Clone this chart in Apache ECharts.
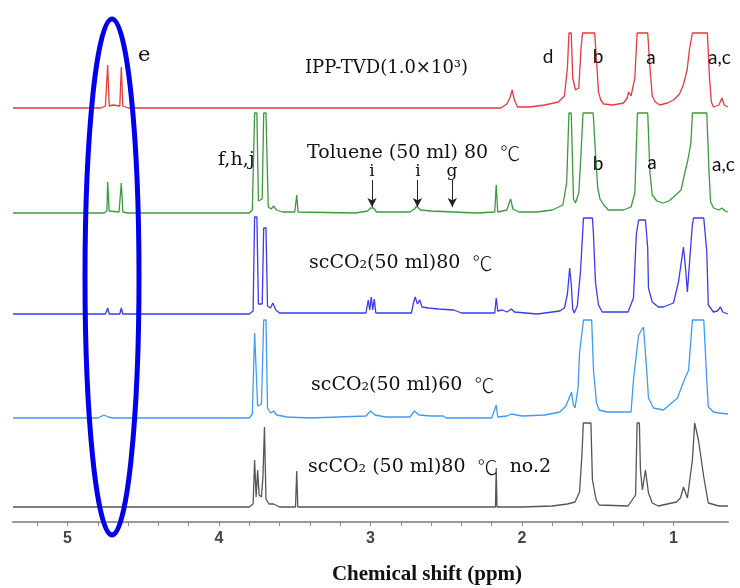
<!DOCTYPE html>
<html>
<head>
<meta charset="utf-8">
<script src="https://cdn.jsdelivr.net/npm/echarts@6/dist/echarts.min.js"></script>
<style>
	html, body { margin: 0; padding: 0; background: #fff; }
	#chart { width: 740px; height: 588px; }
</style>
</head>
<body>
<div id="chart"></div>
<script>
// spectra: [ppm, height above own baseline]
const redIPP = [
	[5.36, 0], [4.78, 0], [4.75, 2], [4.735, 43], [4.725, 2], [4.70, 3], [4.655, 2], [4.645, 41], [4.635, 2], [4.60, 0],
	[2.14, 0], [2.10, 4], [2.08, 10], [2.065, 18], [2.05, 8], [2.03, 1], [1.95, 1], [1.85, 3], [1.76, 6], [1.72, 12],
	[1.70, 40], [1.69, 75], [1.675, 75], [1.665, 30], [1.647, 18], [1.625, 20], [1.61, 60], [1.60, 75], [1.52, 75],
	[1.505, 40], [1.495, 16], [1.48, 8], [1.46, 4], [1.40, 3], [1.33, 5], [1.305, 10], [1.297, 16], [1.28, 12],
	[1.255, 30], [1.24, 75], [1.17, 75], [1.155, 40], [1.14, 12], [1.12, 6], [1.09, 3], [1.04, 5], [1.00, 8],
	[0.96, 14], [0.935, 23], [0.91, 38], [0.895, 58], [0.875, 75], [0.776, 75], [0.762, 30], [0.75, 6], [0.736, 1],
	[0.70, 3], [0.68, 10], [0.665, 3], [0.64, 1]
];
const greenToluene = [
	[5.36, 0], [4.76, 0], [4.74, 2], [4.735, 31], [4.725, 2], [4.66, 1], [4.645, 30], [4.635, 1], [4.60, 0],
	[3.80, 0], [3.78, 3], [3.765, 100], [3.75, 100], [3.74, 12], [3.715, 14], [3.705, 100], [3.69, 100], [3.675, 6],
	[3.655, 4], [3.64, 7], [3.62, 3], [3.58, 1], [3.50, 1], [3.487, 18], [3.478, 1], [3.10, 0], [3.02, 2], [3.00, 5],
	[2.98, 5], [2.96, 1], [2.74, 1], [2.71, 4], [2.695, 7], [2.67, 3], [2.60, 2], [2.45, 1], [2.30, 0], [2.18, 1],
	[2.17, 28], [2.16, 1], [2.10, 3], [2.075, 14], [2.06, 4], [2.02, 1], [1.90, 1], [1.80, 3], [1.73, 8], [1.705, 30],
	[1.69, 100], [1.675, 100], [1.66, 14], [1.647, 10], [1.625, 20], [1.61, 60], [1.597, 100], [1.53, 100],
	[1.515, 60], [1.5, 25], [1.485, 14], [1.46, 8], [1.43, 3], [1.33, 3], [1.28, 6], [1.255, 20], [1.238, 100],
	[1.17, 100], [1.155, 40], [1.14, 18], [1.11, 12], [1.07, 10], [1.03, 12], [0.985, 18], [0.95, 23], [0.925, 40],
	[0.905, 53], [0.885, 70], [0.875, 100], [0.78, 100], [0.765, 40], [0.755, 11], [0.735, 5], [0.70, 3],
	[0.68, 5], [0.66, 2], [0.64, 1]
];
const blueSc80 = [
	[5.36, 0], [4.75, 0], [4.735, 6], [4.725, 0], [4.655, 0], [4.645, 6], [4.635, 0],
	[3.80, 0], [3.775, 3], [3.765, 97], [3.75, 97], [3.74, 10], [3.715, 10], [3.705, 86], [3.69, 86], [3.68, 8],
	[3.66, 6], [3.645, 11], [3.625, 4], [3.60, 1], [3.03, 1], [3.015, 14], [3.005, 4], [2.995, 17], [2.985, 4],
	[2.975, 15], [2.965, 1], [2.73, 1], [2.715, 12], [2.705, 17], [2.69, 10], [2.675, 14], [2.66, 7], [2.62, 6],
	[2.55, 5], [2.45, 4], [2.40, 1], [2.18, 1], [2.17, 16], [2.16, 3], [2.13, 4], [2.10, 2], [2.07, 5], [2.05, 2],
	[1.90, 0], [1.80, 2], [1.75, 3], [1.72, 6], [1.70, 20], [1.685, 46], [1.675, 30], [1.665, 5], [1.655, 1],
	[1.635, 8], [1.614, 42], [1.594, 96], [1.535, 96], [1.528, 79], [1.515, 32], [1.495, 9], [1.47, 2], [1.30, 2],
	[1.264, 16], [1.245, 80], [1.23, 94], [1.185, 94], [1.17, 66], [1.165, 26], [1.14, 12], [1.10, 7], [1.066, 7],
	[1.0, 11], [0.967, 32], [0.95, 50], [0.934, 67], [0.92, 45], [0.908, 22], [0.89, 60], [0.875, 89],
	[0.868, 96], [0.80, 96], [0.78, 62], [0.77, 9], [0.736, 2], [0.71, 3], [0.69, 7], [0.675, 2], [0.64, 0]
];
const lightBlueSc60 = [
	[5.36, 0], [4.80, 0], [4.76, 3], [4.73, 1], [4.70, 0],
	[3.80, 0], [3.78, 4], [3.765, 85], [3.755, 85], [3.745, 12], [3.72, 14], [3.705, 98], [3.69, 98], [3.68, 10],
	[3.66, 5], [3.64, 7], [3.62, 3], [3.55, 1], [3.40, 0], [3.03, 2], [3.00, 7], [2.97, 3], [2.90, 1], [2.74, 1],
	[2.71, 7], [2.68, 3], [2.60, 2], [2.52, 2], [2.50, 0], [2.20, 0], [2.17, 13], [2.16, 1], [2.10, 2], [2.07, 4],
	[2.0, 2], [1.85, 3], [1.75, 6], [1.71, 12], [1.673, 26], [1.662, 14], [1.65, 10], [1.63, 30], [1.62, 65],
	[1.594, 98], [1.54, 98], [1.528, 48], [1.508, 15], [1.49, 8], [1.44, 6], [1.28, 6], [1.264, 38], [1.23, 83],
	[1.198, 91], [1.178, 51], [1.165, 20], [1.132, 10], [1.066, 8], [0.974, 20], [0.934, 36], [0.90, 48],
	[0.875, 98], [0.80, 98], [0.78, 38], [0.77, 11], [0.736, 6], [0.70, 5], [0.64, 4]
];
const blackSc80no2 = [
	[5.36, 0], [3.80, 0], [3.775, 3], [3.765, 47], [3.755, 10], [3.745, 37], [3.735, 12], [3.72, 10], [3.71, 30],
	[3.70, 80], [3.69, 8], [3.67, 3], [3.64, 3], [3.60, 0], [3.495, 0], [3.487, 36], [3.48, 0], [3.0, 0], [2.99, 2],
	[2.98, 0], [2.70, 0], [2.69, 2], [2.68, 0], [2.175, 0], [2.17, 39], [2.165, 0], [2.0, 0], [1.80, 1], [1.70, 3],
	[1.65, 5], [1.62, 15], [1.605, 50], [1.595, 84], [1.545, 84], [1.535, 27], [1.51, 7], [1.49, 2], [1.30, 1],
	[1.25, 12], [1.24, 84], [1.225, 84], [1.218, 37], [1.205, 17], [1.185, 37], [1.165, 14], [1.14, 4],
	[1.10, 1], [0.98, 5], [0.954, 9], [0.934, 20], [0.908, 9], [0.875, 47], [0.86, 84], [0.85, 84], [0.835, 67],
	[0.80, 30], [0.77, 4], [0.70, 1], [0.64, 1]
];

const traceNames = ["IPP-TVD(1.0×10³)", "Toluene (50 ml) 80 ℃", "scCO₂(50 ml)80 ℃", "scCO₂(50 ml)60 ℃", "scCO₂ (50 ml)80 ℃  no.2"];
const traceData = [redIPP, greenToluene, blueSc80, lightBlueSc60, blackSc80no2];
const traceOffsets = [414, 309, 208, 104, 15];
const traceColors = ["#e8393c", "#3c9a3c", "#3a3aee", "#3d9bf5", "#555555"];

const majorTicks = [1, 2, 3, 4, 5];
const minorTicks = [1, 1.2, 1.4, 1.6, 1.8, 2, 2.2, 2.4, 2.6, 2.8, 3, 3.2, 3.4, 3.6, 3.8, 4, 4.2, 4.4, 4.6, 4.8, 5, 5.2];

// i, i, g arrows on the toluene trace
const arrowPpm = [2.99, 2.69, 2.46];

let chart = echarts.init(document.getElementById("chart"));

const serif = "'DejaVu Serif', 'Noto Sans CJK JP', serif";
const sans = "Lato, 'Liberation Sans', sans-serif";
const cjk = "'Noto Sans CJK JP', sans-serif";

function txt(text, x, y, font, align) {
	return {
		type: "text",
		x: x,
		y: y,
		z: 50,
		style: {
			text: text,
			font: font,
			fill: "#111",
			align: align || "left",
			verticalAlign: "middle"
		}
	};
}

// sample labels: the degree sign is drawn wide, as in the picture
function sampleLabel(text, x, y, size) {
	let t = text.replace(" ℃", "  {c|℃}");
	let el = txt(t, x, y, size + "px " + serif);
	el.style.rich = {
		c: { font: "300 " + (size + 1) + "px " + cjk, fill: "#111" }
	};
	return el;
}

let series = traceData.map((d, k) => ({
	name: traceNames[k],
	type: "line",
	data: d.map(p => [p[0], p[1] + traceOffsets[k]]),
	showSymbol: false,
	symbol: "none",
	smooth: false,
	lineStyle: { color: traceColors[k], width: 1.3 },
	z: 5 - k,
	animation: false
}));

series[1].markLine = {
	silent: true,
	symbol: ["none", "arrow"],
	symbolSize: [7, 9],
	label: { show: false },
	lineStyle: { color: "#222", width: 1, type: "solid" },
	data: arrowPpm.map(v => [{ coord: [v, 342] }, { coord: [v, 315] }]),
	animation: false
};

chart.setOption({
	animation: false,
	grid: { left: 13, right: 12, top: 22, bottom: 66 },
	xAxis: {
		type: "value",
		min: 0.64,
		max: 5.36,
		inverse: true,
		axisLine: { show: true, onZero: false, lineStyle: { color: "#999", width: 2 } },
		axisTick: { show: true, customValues: minorTicks, length: 4, lineStyle: { color: "#888" } },
		axisLabel: {
			customValues: majorTicks,
			margin: 9,
			color: "#444",
			fontSize: 16,
			fontWeight: "bold",
			fontFamily: "'Liberation Sans', sans-serif"
		},
		splitLine: { show: false }
	},
	yAxis: {
		type: "value",
		min: 0,
		max: 500,
		show: false
	},
	series: series,
	graphic: [
		txt(traceNames[0], 305, 68, "18px " + serif),
		sampleLabel(traceNames[1], 307, 153, 19),
		sampleLabel(traceNames[2], 309, 263, 19),
		sampleLabel(traceNames[3], 311, 385, 19),
		sampleLabel(traceNames[4], 308, 467, 19),
		txt("e", 138, 56, "21px " + serif),
		txt("f,h,j", 218, 160, "19px " + serif),
		txt("i", 372, 172, "17px " + serif, "center"),
		txt("i", 418, 172, "17px " + serif, "center"),
		txt("g", 452, 172, "17px " + serif, "center"),
		txt("d", 548, 57, "19px " + sans, "center"),
		txt("b", 598, 57, "19px " + sans, "center"),
		txt("a", 651, 58, "19px " + sans, "center"),
		txt("a,c", 708, 58, "19px " + sans),
		txt("b", 598, 164, "19px " + sans, "center"),
		txt("a", 652, 163, "19px " + sans, "center"),
		txt("a,c", 712, 165, "19px " + sans),
		txt("Chemical shift (ppm)", 427, 575, "bold 21px 'Liberation Serif', serif", "center"),
		{
			type: "ellipse",
			z: 100,
			shape: { cx: 112, cy: 277, rx: 27, ry: 258 },
			style: { fill: "none", stroke: "#0000ee", lineWidth: 5 }
		}
	]
});
</script>
</body>
</html>
